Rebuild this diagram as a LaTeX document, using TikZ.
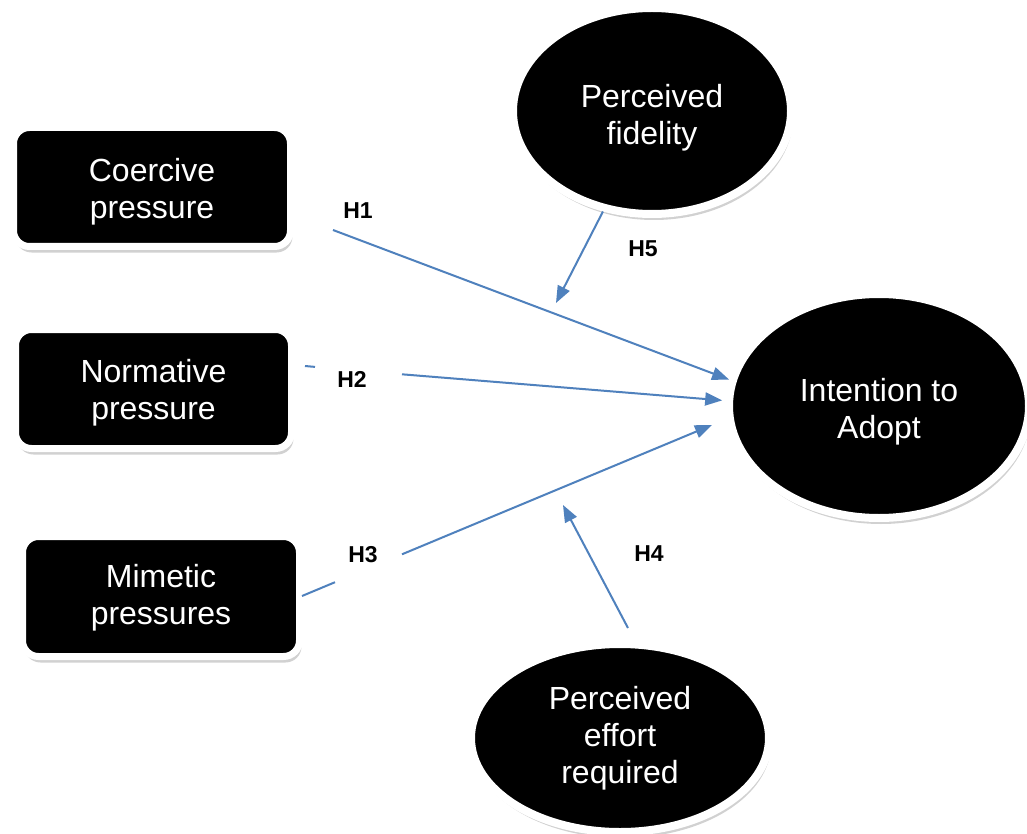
\documentclass[tikz,border=0pt]{standalone}
\usepackage{fontspec}
\setmainfont{Liberation Sans}
\usetikzlibrary{arrows.meta,shapes.geometric,shadows}
\definecolor{arrowblue}{RGB}{79,129,189}
\newcommand{\tdn}[1]{\rule{0pt}{#1}}
\begin{document}
\begin{tikzpicture}[x=1pt,y=-1pt,
  shadowed/.style={drop shadow={shadow xshift=2pt, shadow yshift=-6pt, opacity=0.18, fill=black}},
  box/.style={rectangle, rounded corners=16pt, fill=black, draw=white, line width=7pt,
    minimum width=277pt, minimum height=119pt, text=white, align=center, inner sep=2pt,
    font=\fontsize{32}{37}\selectfont, shadowed},
  ell/.style={ellipse, fill=black, draw=white, line width=8pt, text=white, align=center,
    inner sep=1pt, font=\fontsize{32}{37}\selectfont, shadowed},
  hyp/.style={font=\bfseries\fontsize{23}{27}\selectfont, inner sep=0pt},
  link/.style={draw=arrowblue, line width=2pt},
  arr/.style={link, -{Triangle[length=17pt,width=13pt]}}]
\useasboundingbox[fill=white] (0,0) rectangle (1027,834);

% nodes
\node[box] (coe) at (152,187) {\tdn{33.4pt}Coercive\\pressure};
\node[box, minimum width=276pt] (nor) at (153.5,389) {\tdn{31.4pt}Normative\\pressure};
\node[box, minimum height=120pt] (mim) at (161,596.5) {\tdn{25pt}Mimetic\\pressures};
\node[ell, minimum width=278pt, minimum height=206pt] (fid) at (652,111) {\tdn{37.3pt}Perceived\\fidelity};
\node[ell, minimum width=300pt, minimum height=224pt] (int) at (879,406) {\tdn{35pt}Intention to\\Adopt};
\node[ell, minimum width=298pt, minimum height=188pt] (eff) at (620,738) {Perceived\\effort\\required};

% free ends
\coordinate (h1s) at (333,230);
\coordinate (h2s) at (305,366);
\coordinate (h2a) at (315,366.9);
\coordinate (h2b) at (402,374.3);
\coordinate (h3s) at (302,596);
\coordinate (h3a) at (335,582.2);
\coordinate (h3b) at (402,554.3);
\coordinate (h3e) at (712,425);
\coordinate (h5e) at (556,303);
\coordinate (h4s) at (628,628);
\coordinate (h4e) at (563,505);

% connectors
\draw[arr] (h1s) -- (int.170.2);
\draw[link] (h2s) -- (h2a);
\draw[arr, shorten >=3pt] (h2b) -- (int.178.5);
\draw[link] (h3s) -- (h3a);
\draw[arr] (h3b) -- (h3e);
\draw[arr] (fid.244.1) -- (h5e);
\draw[arr] (h4s) -- (h4e);

% labels
\node[hyp] (l1) at (358,211) {H1};
\node[hyp] (l2) at (352,379) {H2};
\node[hyp] (l3) at (363,555) {H3};
\node[hyp] (l4) at (649,554) {H4};
\node[hyp] (l5) at (643,249) {H5};
\end{tikzpicture}
\end{document}
